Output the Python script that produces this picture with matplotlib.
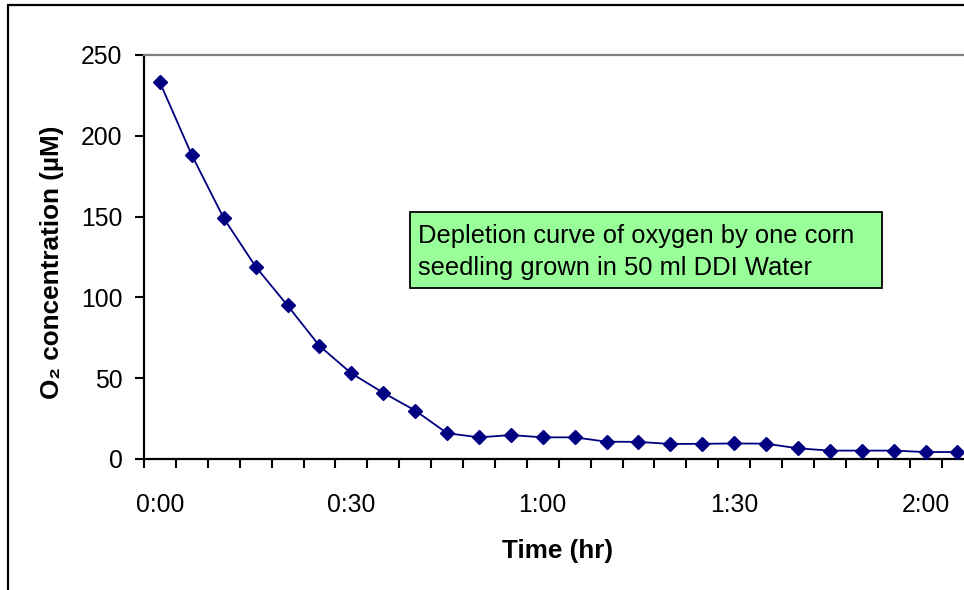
import matplotlib
matplotlib.use("Agg")
import matplotlib.pyplot as plt
from matplotlib.patches import Rectangle
from matplotlib.ticker import FixedLocator, FixedFormatter

plt.rcParams['font.family'] = ['Liberation Sans', 'DejaVu Sans']

# Data: O2 concentration every 5 minutes (0:00 .. 2:05)
minutes = [0, 5, 10, 15, 20, 25, 30, 35, 40, 45, 50, 55, 60, 65, 70, 75, 80, 85,
           90, 95, 100, 105, 110, 115, 120, 125]
o2_uM = [233, 188, 149, 119, 95, 70, 53, 41, 30, 16, 13.4, 14.8, 13.4, 13.4,
         10.7, 10.6, 9.3, 9.4, 9.6, 9.5, 6.6, 5.2, 5.2, 5.2, 4.3, 4.3]
tick_labels = ['0:00', '0:30', '1:00', '1:30', '2:00']
tick_minutes = [0, 30, 60, 90, 120]
y_ticks = [0, 50, 100, 150, 200, 250]

W, H = 964, 590
fig = plt.figure(figsize=(W / 100, H / 100), dpi=100)

# category positions
idx = list(range(len(minutes)))
tick_idx = [minutes.index(m) for m in tick_minutes]

left_px, right_px, top_px, bot_px = 144, 973.4, 55, 459
ax = fig.add_axes([left_px / W, 1 - bot_px / H, (right_px - left_px) / W, (bot_px - top_px) / H])

ax.plot(idx, o2_uM, color='#000080', lw=1.3, marker='D', ms=7.4,
        markerfacecolor='#000080', markeredgecolor='#000080', clip_on=False, zorder=3)

ax.set_xlim(-0.5, len(minutes) - 0.5)
ax.set_ylim(0, 250)

# y axis
ax.set_yticks(y_ticks)
ax.tick_params(axis='y', direction='out', length=6.5, width=1.5, pad=9, labelsize=17.8, colors='black')
# x axis: minor ticks at category boundaries, labels at categories
ax.xaxis.set_major_locator(FixedLocator(tick_idx))
ax.xaxis.set_major_formatter(FixedFormatter(tick_labels))
ax.xaxis.set_minor_locator(FixedLocator([i - 0.5 for i in range(len(minutes) + 1)]))
ax.tick_params(axis='x', which='major', length=0, pad=24.5, labelsize=17.8)
ax.tick_params(axis='x', which='minor', direction='out', length=6.5, width=1.5)

for s in ['left', 'bottom']:
    ax.spines[s].set_linewidth(1.6)
    ax.spines[s].set_color('black')
ax.spines['top'].set_color('#808080')
ax.spines['top'].set_linewidth(1.6)
ax.spines['right'].set_color('#808080')
ax.spines['right'].set_linewidth(1.6)

# axis titles
fig.text(558 / W, 1 - 558 / H, 'Time (hr)', ha='center', va='baseline',
         fontsize=18.8, fontweight='bold')
fig.text(52 / W, 1 - 262 / H, 'O\u2082 concentration (µM)', ha='center', va='center',
         rotation=90, fontsize=18.8, fontweight='bold')

# annotation box (fixed-size text box like Excel)
ax.add_patch(Rectangle((0.3207, 0.4233), 0.5691, 0.1881, transform=ax.transAxes,
                       facecolor='#99FF99', edgecolor='black', lw=1.3, zorder=4, clip_on=False))
ax.text(0.3304, 0.512, 'Depletion curve of oxygen by one corn\nseedling grown in 50 ml DDI Water',
        transform=ax.transAxes, ha='left', va='center', fontsize=18.4, linespacing=1.42,
        zorder=5)

# outer chart border
fig.patches.append(Rectangle((8 / W, -0.1), 1.2, 1 - 5 / H + 0.1, transform=fig.transFigure,
                             fill=False, edgecolor='black', lw=1.6))

fig.savefig('out.png', dpi=100)
